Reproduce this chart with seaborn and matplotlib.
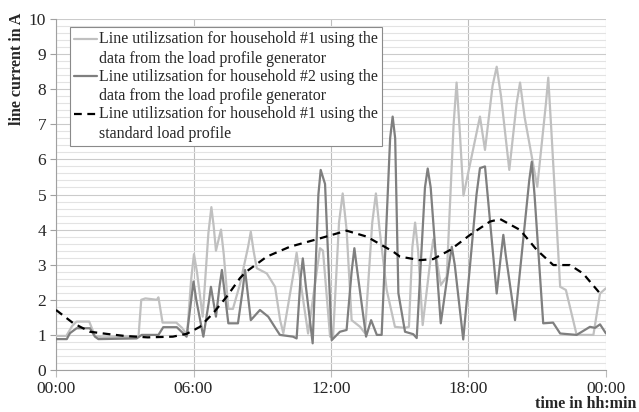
import matplotlib
matplotlib.use("Agg")
import matplotlib.pyplot as plt
from matplotlib.ticker import MultipleLocator, FuncFormatter
from matplotlib.legend_handler import HandlerLine2D
import numpy as np
import pandas as pd
import seaborn as sns

# horas del dia (0-24) y corriente en A
hora_hh1 = [0.0, 0.45, 0.7, 0.9, 1.45, 1.7, 2.0, 3.6, 3.72, 3.9, 4.4, 4.47, 4.65, 5.25, 5.5, 5.72,
            5.9, 6.02, 6.15, 6.4, 6.65, 6.78, 6.88, 6.98, 7.2, 7.32, 7.52, 7.72, 8.03, 8.38, 8.5, 8.62,
            8.76, 9.2, 9.56, 9.78, 9.92, 10.35, 10.5, 10.65, 11.0, 11.52, 11.65, 11.96, 12.09,
            12.35, 12.51, 12.68, 12.9, 13.27, 13.48, 13.8, 13.96, 14.12, 14.43, 14.79, 15.23,
            15.4, 15.55, 15.67, 15.8, 16.0, 16.35, 16.46, 16.6, 16.79, 17.05, 17.35, 17.48,
            17.62, 17.78, 18.5, 18.72, 19.05, 19.23, 19.42, 19.78, 20.1, 20.25, 20.45, 21.0,
            21.38, 21.48, 21.6, 22.0, 22.25, 22.72, 23.45, 23.74, 24.0]
corriente_hh1 = [0.97, 0.97, 1.25, 1.38, 1.38, 0.97, 0.93, 0.95, 2.0, 2.04, 2.0, 2.07, 1.35, 1.35, 1.2, 1.0,
                 2.6, 3.3, 2.8, 1.52, 3.9, 4.64, 4.1, 3.4, 4.0, 3.3, 1.74, 1.74, 2.45, 3.5, 3.94, 3.4,
                 2.9, 2.75, 2.37, 1.42, 1.05, 2.7, 3.34, 2.6, 1.04, 3.47, 3.4, 0.95, 0.95,
                 4.2, 5.03, 4.0, 1.42, 1.23, 1.05, 4.2, 5.03, 4.0, 2.28, 1.23, 1.2,
                 1.23, 3.5, 4.2, 3.4, 1.28, 3.2, 3.72, 3.2, 2.42, 2.66, 7.0, 8.19,
                 6.8, 4.97, 7.22, 6.27, 8.1, 8.64, 7.8, 5.7, 7.6, 8.19, 7.2, 5.22,
                 7.6, 8.33, 7.0, 2.37, 2.28, 1.0, 1.0, 2.18, 2.33]

hora_hh2 = [0.0, 0.47, 0.61, 0.9, 1.48, 1.7, 1.85, 3.52, 3.74, 4.47, 4.68, 5.27, 5.7, 5.9, 6.0, 6.12,
            6.43, 6.66, 6.76, 6.98, 7.14, 7.24, 7.36, 7.52, 7.94, 8.15, 8.25, 8.5, 8.9, 9.26, 9.63,
            9.77, 10.34, 10.5, 10.67, 10.77, 10.9, 11.2, 11.45, 11.55, 11.74, 12.03, 12.39, 12.68,
            12.9, 13.02, 13.15, 13.53, 13.75, 14.0, 14.21, 14.58, 14.69, 14.8, 14.94, 15.23,
            15.59, 15.74, 16.1, 16.22, 16.35, 16.79, 17.15, 17.27, 17.4, 17.77, 18.35, 18.5,
            18.72, 19.23, 19.42, 19.52, 19.62, 20.03, 20.65, 20.76, 20.88, 21.26, 21.69, 22.0,
            22.72, 23.3, 23.52, 23.74, 24.0]
corriente_hh2 = [0.88, 0.88, 1.05, 1.19, 1.19, 0.95, 0.88, 0.9, 1.0, 1.0, 1.22, 1.22, 0.95, 2.0, 2.52, 2.0,
                 0.95, 1.9, 2.37, 1.52, 2.4, 2.85, 2.2, 1.33, 1.33, 2.3, 2.85, 1.42, 1.71, 1.52, 1.14,
                 1.0, 0.95, 0.9, 2.6, 3.18, 2.4, 0.76, 5.0, 5.7, 5.3, 0.85, 1.09, 1.14,
                 2.8, 3.47, 2.8, 0.95, 1.42, 1.0, 1.0, 6.6, 7.22, 6.6, 2.19, 1.09,
                 1.02, 0.91, 5.2, 5.74, 5.2, 1.33, 3.0, 3.51, 3.0, 0.87, 5.0, 5.75,
                 5.8, 2.18, 3.3, 3.85, 3.3, 1.42, 5.4, 5.93, 5.0, 1.33, 1.35, 1.04,
                 1.0, 1.23, 1.2, 1.3, 1.04]

hora_slp = [0.0, 0.76, 1.48, 2.2, 3.0, 4.0, 5.1, 5.7, 6.28, 6.86, 7.45, 8.03, 8.3, 9.2, 10.2,
            11.52, 12.68, 13.56, 14.72, 15.01, 15.88, 16.46, 17.2, 18.07, 18.94, 19.38, 20.25,
            20.98, 21.7, 22.43, 23.0, 23.74]
corriente_slp = [1.71, 1.33, 1.09, 1.03, 0.97, 0.93, 0.95, 1.03, 1.23, 1.62, 2.09, 2.62, 2.8, 3.23, 3.51,
                 3.75, 3.97, 3.8, 3.37, 3.23, 3.13, 3.16, 3.42, 3.85, 4.23, 4.3, 3.99,
                 3.42, 2.99, 2.99, 2.75, 2.18]

etiquetas = ["Line utilizsation for household #1 using the\ndata from the load profile generator",
             "Line utilizsation for household #2 using the\ndata from the load profile generator",
             "Line utilizsation for household #1 using the\nstandard load profile"]


# el simbolo de la leyenda va a la altura de la primera linea del texto
class HandlerArriba(HandlerLine2D):
    def create_artists(self, legend, orig_handle, xdescent, ydescent, width, height, fontsize, trans):
        arts = super().create_artists(legend, orig_handle, xdescent, ydescent, width, height, fontsize, trans)
        for a in arts:
            a.set_ydata(np.asarray(a.get_ydata()) + 0.65 * fontsize)
        return arts


sns.set_style("white")
plt.rcParams['font.family'] = ['Liberation Serif', 'DejaVu Serif']

fig = plt.figure(figsize=(6.39, 4.12), dpi=100)
ax = fig.add_axes([56/639, 1 - 370/412, 550/639, 351/412])

df1 = pd.DataFrame({"hora": hora_hh1, "corriente": corriente_hh1})
df2 = pd.DataFrame({"hora": hora_hh2, "corriente": corriente_hh2})
df3 = pd.DataFrame({"hora": hora_slp, "corriente": corriente_slp})

sns.lineplot(data=df1, x="hora", y="corriente", ax=ax, color="#c0c0c0", linewidth=1.6, label=etiquetas[0], zorder=3)
sns.lineplot(data=df2, x="hora", y="corriente", ax=ax, color="#7f7f7f", linewidth=1.6, label=etiquetas[1], zorder=4)
sns.lineplot(data=df3, x="hora", y="corriente", ax=ax, color="black", linewidth=1.6,
             linestyle=(0, (3.5, 2.5)), label=etiquetas[2], zorder=5)

ax.set_xlim(0, 24)
ax.set_ylim(0, 10)
ax.xaxis.set_major_locator(MultipleLocator(6))
ax.yaxis.set_major_locator(MultipleLocator(1))
ax.yaxis.set_minor_locator(MultipleLocator(0.2))
ax.xaxis.set_major_formatter(FuncFormatter(lambda v, p: "%02d:00" % (int(v) % 24)))

ax.grid(which="minor", axis="y", color="#e3e3e3", linewidth=0.8)
ax.grid(which="major", axis="y", color="#cbcbcb", linewidth=0.8)
ax.grid(which="major", axis="x", color="#bdbdbd", linewidth=0.8)
ax.set_axisbelow(True)

for lado in ["top", "right"]:
    ax.spines[lado].set_visible(False)
for lado in ["left", "bottom"]:
    ax.spines[lado].set_color("#a0a0a0")
    ax.spines[lado].set_linewidth(0.8)

ax.tick_params(axis="y", which="major", direction="out", length=4, color="#a0a0a0", width=0.8,
               labelsize=12.5, pad=3, left=True)
ax.tick_params(axis="y", which="minor", left=False)
ax.tick_params(axis="x", which="major", direction="out", length=5, color="#bdbdbd", width=0.8,
               labelsize=12.5, pad=3, bottom=True)

ax.set_xlabel("")
ax.set_ylabel("line current in A", fontsize=11.5, fontweight="bold")
ax.yaxis.set_label_coords(-0.056, 0.857)
fig.text(0.996, 4/412, "time in hh:min", fontsize=11.5, fontweight="bold", ha="right", va="baseline")

leg = ax.legend(loc="upper left", bbox_to_anchor=(14/550, 1 - 8/351), fontsize=11.5, frameon=True,
                fancybox=False, edgecolor="#8a8a8a", framealpha=1, borderpad=0.25,
                handlelength=1.45, handletextpad=0.1, labelspacing=0.12, borderaxespad=0,
                handler_map={plt.Line2D: HandlerArriba()})
leg.get_frame().set_linewidth(0.8)
for t in leg.get_texts():
    t.set_linespacing(1.3)

plt.savefig("out.png", dpi=100)
